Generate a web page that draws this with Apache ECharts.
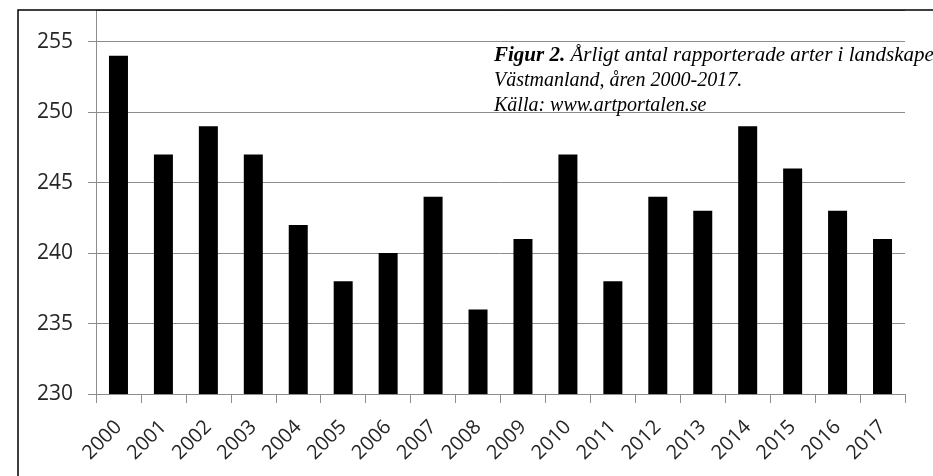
<!DOCTYPE html>
<html>
<head>
<meta charset="utf-8">
<script src="https://cdn.jsdelivr.net/npm/echarts@6/dist/echarts.min.js"></script>
<style>
  html, body { margin: 0; padding: 0; background: #fff; }
  #chart { width: 933px; height: 476px; }
</style>
</head>
<body>
<div id="chart"></div>
<script>
const years = ["2000", "2001", "2002", "2003", "2004", "2005", "2006", "2007", "2008",
  "2009", "2010", "2011", "2012", "2013", "2014", "2015", "2016", "2017"];
const species = [254, 247, 249, 247, 242, 238, 240, 244, 236,
  241, 247, 238, 244, 243, 249, 246, 243, 241];
const captionLines = [
  "{b|Figur 2.}{h| Årligt antal rapporterade arter i landskapet}",
  "Västmanland, åren 2000-2017.",
  "Källa: www.artportalen.se"
];

const chart = echarts.init(document.getElementById("chart"));
const labelFont = "'Open Sans', 'DejaVu Sans', sans-serif";
const serif = "'Liberation Serif', 'Times New Roman', serif";

chart.setOption({
  animation: false,
  grid: { left: 96, right: 28, top: 10, bottom: 82 },
  title: {
    text: captionLines.join("\n"),
    left: 494,
    top: 43,
    padding: 0,
    textStyle: {
      fontFamily: serif,
      fontStyle: "italic",
      fontWeight: "normal",
      fontSize: 20,
      lineHeight: 25,
      color: "#000",
      rich: {
        b: {
          fontFamily: serif,
          fontStyle: "italic",
          fontWeight: "bold",
          fontSize: 21,
          lineHeight: 25,
          color: "#000"
        },
        h: {
          fontFamily: serif,
          fontStyle: "italic",
          fontSize: 21,
          lineHeight: 25,
          color: "#000"
        }
      }
    }
  },
  xAxis: {
    type: "category",
    data: years,
    axisLine: { lineStyle: { color: "#8c8c8c", width: 1 } },
    axisTick: { show: true, length: 9, lineStyle: { color: "#8c8c8c" } },
    axisLabel: {
      rotate: 45,
      margin: 30,
      fontFamily: labelFont,
      fontSize: 20,
      color: "#262626"
    }
  },
  yAxis: {
    type: "value",
    min: 230,
    max: 257.25,
    interval: 5,
    axisLine: { show: true, lineStyle: { color: "#8c8c8c", width: 1 } },
    axisTick: { show: true, length: 8, lineStyle: { color: "#8c8c8c" } },
    splitLine: { lineStyle: { color: "#8c8c8c", width: 1 } },
    axisLabel: {
      showMaxLabel: false,
      margin: 23,
      fontFamily: labelFont,
      fontSize: 21,
      color: "#262626"
    }
  },
  series: [{
    type: "bar",
    data: species,
    barWidth: 19,
    itemStyle: { color: "#000" }
  }],
  graphic: [{
    type: "rect",
    shape: { x: 18, y: 10, width: 1000, height: 1000 },
    style: { fill: "none", stroke: "#000", lineWidth: 1.5 },
    silent: true,
    z: 100
  }]
});
</script>
</body>
</html>
